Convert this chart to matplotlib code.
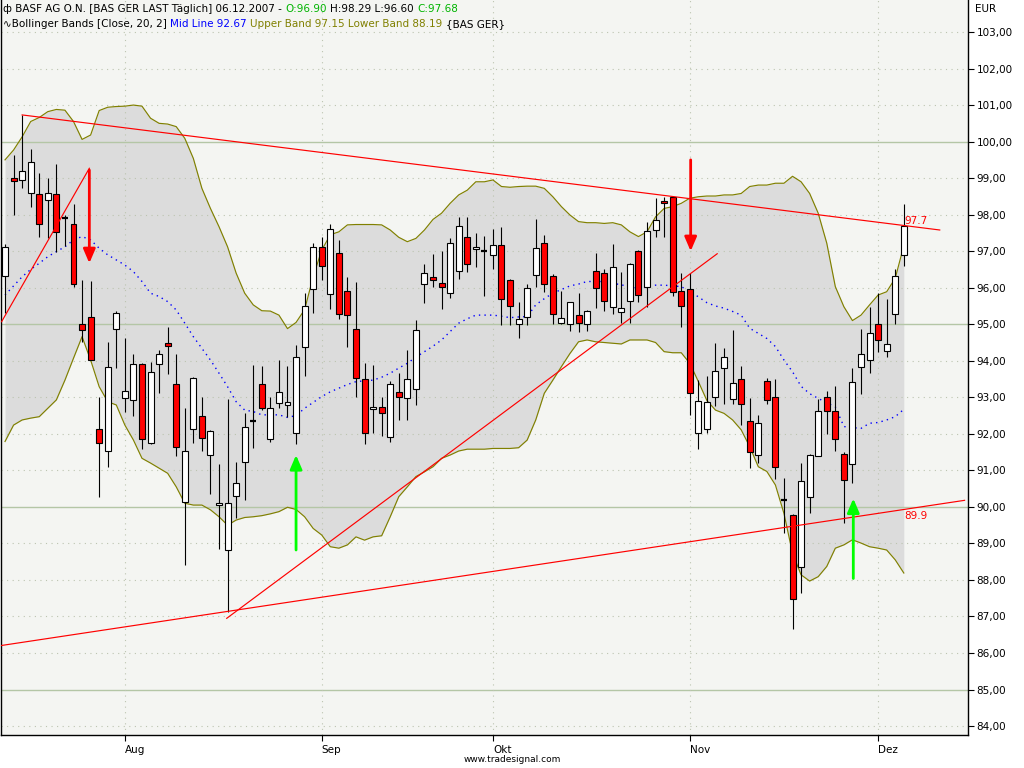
import numpy as np
import matplotlib
matplotlib.use("Agg")
import matplotlib.pyplot as plt

# BASF daily candles, 12.07.2007 - 06.12.2007 (trading day index 0..105)
opens = [96.32, 98.99, 98.95, 98.58, 98.56, 98.40, 98.56, 97.90, 97.74, 95.00,
         95.19, 92.12, 91.53, 94.88, 92.97, 92.93, 93.90, 91.76, 93.90, 94.48,
         93.36, 90.13, 92.12, 92.49, 91.41, 90.04, 88.82, 90.30, 91.22, 92.36,
         93.36, 91.85, 92.84, 92.79, 92.02, 94.37, 95.96, 97.11, 95.82, 96.94,
         95.90, 94.86, 93.51, 92.69, 92.74, 91.90, 93.14, 92.99, 93.22, 96.09,
         96.28, 96.12, 95.85, 96.45, 97.38, 97.05, 97.00, 96.89, 97.16, 96.21,
         95.00, 95.19, 96.35, 97.22, 96.33, 95.03, 95.00, 95.24, 95.00, 96.45,
         96.39, 95.46, 95.33, 95.65, 97.00, 96.01, 97.57, 98.38, 98.47, 95.90,
         95.96, 92.02, 92.12, 93.02, 93.79, 92.95, 93.51, 92.34, 91.42, 93.45,
         93.00, 90.19, 89.78, 88.35, 90.26, 91.38, 93.00, 92.62, 91.45, 91.17,
         93.82, 94.01, 95.00, 94.27, 95.27, 96.90]
highs = [97.20, 99.63, 100.73, 99.79, 99.13, 98.99, 99.39, 97.99, 98.28, 96.21,
         96.18, 93.02, 94.52, 95.37, 94.62, 94.19, 93.93, 93.96, 94.30, 94.92,
         94.18, 92.70, 93.55, 93.02, 92.10, 91.18, 92.96, 91.24, 92.56, 93.88,
         93.86, 93.02, 94.02, 93.87, 94.42, 95.85, 97.23, 97.40, 97.74, 97.31,
         96.29, 96.17, 93.93, 93.88, 93.02, 93.45, 93.67, 94.30, 95.12, 96.65,
         96.92, 97.01, 97.35, 97.94, 97.93, 97.49, 97.42, 97.60, 97.67, 96.25,
         95.60, 96.10, 97.87, 97.44, 96.38, 95.91, 95.62, 95.85, 95.39, 96.94,
         96.50, 97.19, 96.44, 96.69, 97.02, 97.81, 98.45, 98.49, 98.50, 96.39,
         96.41, 93.47, 93.58, 94.50, 94.36, 94.84, 93.86, 92.97, 92.52, 93.54,
         93.51, 90.78, 89.80, 91.21, 91.45, 92.95, 93.18, 93.31, 91.49, 93.79,
         94.86, 95.48, 95.85, 95.69, 96.50, 98.29]
lows = [95.30, 97.99, 98.72, 98.22, 97.40, 97.35, 96.99, 97.13, 96.03, 94.52,
        94.02, 90.26, 91.10, 93.81, 92.61, 92.49, 91.58, 91.71, 93.11, 93.64,
        91.40, 88.41, 91.76, 91.52, 90.35, 88.84, 87.12, 89.69, 90.19, 91.60,
        92.65, 91.79, 92.70, 92.45, 91.71, 93.58, 95.30, 96.20, 95.41, 95.13,
        94.39, 93.02, 91.71, 92.01, 91.94, 91.77, 92.38, 92.38, 92.79, 95.59,
        96.03, 95.41, 95.71, 96.25, 96.42, 96.58, 95.76, 96.50, 94.98, 94.98,
        94.61, 94.98, 96.03, 95.89, 95.00, 95.00, 94.82, 94.80, 94.82, 95.44,
        95.37, 95.27, 95.03, 95.04, 95.61, 95.48, 97.38, 97.40, 95.76, 94.92,
        92.52, 91.58, 92.02, 92.76, 92.82, 92.82, 92.24, 91.06, 91.19, 92.82,
        90.76, 89.28, 86.65, 87.63, 89.82, 91.38, 91.99, 91.54, 89.57, 90.66,
        93.09, 93.66, 94.25, 94.09, 95.00, 96.60]
closes = [97.11, 98.91, 99.20, 99.43, 97.74, 98.58, 97.52, 97.90, 96.10, 94.84,
          94.02, 91.74, 93.82, 95.30, 93.17, 93.90, 91.85, 93.68, 94.18, 94.41,
          91.65, 91.53, 93.52, 91.88, 92.08, 90.10, 90.10, 90.65, 92.18, 92.36,
          92.70, 92.70, 93.14, 92.86, 94.10, 95.51, 97.12, 96.60, 97.60, 95.27,
          95.24, 93.52, 92.01, 92.74, 92.56, 93.36, 93.02, 93.49, 94.83, 96.39,
          96.21, 96.03, 97.22, 97.69, 96.64, 97.11, 97.00, 97.16, 95.68, 95.50,
          95.13, 95.98, 97.08, 96.10, 95.27, 95.16, 95.60, 95.03, 95.35, 95.98,
          95.63, 96.56, 95.44, 96.64, 95.79, 97.54, 97.85, 98.33, 95.89, 95.50,
          93.11, 92.90, 92.86, 93.71, 94.09, 93.38, 92.81, 91.49, 92.29, 92.93,
          91.08, 90.19, 87.47, 90.72, 91.41, 92.62, 92.62, 91.86, 90.74, 93.41,
          94.19, 94.75, 94.56, 94.46, 96.33, 97.68]

# Bollinger Bands [Close, 20, 2] as drawn
upper_band = [99.50, 99.77, 100.13, 100.55, 100.66, 100.82, 100.88, 100.86, 100.55, 100.06,
              100.18, 100.85, 100.94, 100.96, 100.97, 101.00, 100.97, 100.64, 100.50, 100.48,
              100.41, 100.09, 99.54, 98.72, 98.17, 97.67, 97.12, 96.40, 95.85, 95.53,
              95.37, 95.36, 95.25, 94.88, 95.05, 95.40, 96.30, 97.03, 97.45, 97.53,
              97.72, 97.73, 97.73, 97.73, 97.72, 97.58, 97.38, 97.26, 97.35, 97.58,
              97.87, 98.04, 98.31, 98.54, 98.67, 98.90, 98.90, 98.95, 98.77, 98.75,
              98.77, 98.78, 98.78, 98.72, 98.49, 98.22, 97.99, 97.81, 97.78, 97.78,
              97.76, 97.78, 97.72, 97.53, 97.40, 97.53, 97.94, 98.17, 98.22, 98.31,
              98.45, 98.49, 98.51, 98.51, 98.54, 98.54, 98.58, 98.77, 98.81, 98.81,
              98.86, 98.86, 99.05, 98.90, 98.58, 98.04, 97.22, 96.03, 95.48, 95.10,
              95.25, 95.53, 95.80, 95.89, 96.26, 97.15]
mid_line = [95.80, 96.05, 96.30, 96.50, 96.67, 96.85, 96.99, 97.12, 97.31, 97.40,
            97.31, 97.08, 96.90, 96.76, 96.62, 96.44, 96.17, 95.85, 95.76, 95.62,
            95.39, 95.03, 94.66, 94.34, 94.02, 93.66, 93.29, 92.88, 92.65, 92.61,
            92.52, 92.52, 92.52, 92.45, 92.50, 92.70, 92.86, 93.02, 93.15, 93.25,
            93.35, 93.43, 93.45, 93.47, 93.55, 93.66, 93.80, 93.93, 94.10, 94.25,
            94.40, 94.57, 94.80, 95.03, 95.15, 95.25, 95.25, 95.25, 95.22, 95.18,
            95.20, 95.21, 95.53, 95.70, 95.85, 95.95, 96.05, 96.10, 96.17, 96.17,
            96.17, 96.12, 96.08, 96.02, 95.98, 96.02, 96.07, 96.07, 96.05, 96.03,
            95.90, 95.75, 95.59, 95.50, 95.44, 95.35, 95.25, 94.89, 94.75, 94.61,
            94.39, 94.02, 93.70, 93.30, 93.10, 92.97, 92.85, 92.74, 92.20, 92.17,
            92.15, 92.29, 92.31, 92.38, 92.47, 92.67]
lower_band = [91.79, 92.24, 92.38, 92.43, 92.47, 92.70, 92.93, 93.47, 94.07, 94.66,
              94.02, 93.29, 92.88, 92.79, 92.24, 91.83, 91.33, 91.20, 91.06, 90.92,
              90.55, 90.10, 90.05, 90.05, 89.92, 89.73, 89.50, 89.64, 89.71, 89.73,
              89.76, 89.81, 89.87, 89.99, 89.93, 89.73, 89.41, 89.23, 88.91, 88.87,
              88.96, 89.18, 89.09, 89.18, 89.21, 89.73, 90.28, 90.55, 90.83, 90.96,
              91.10, 91.33, 91.42, 91.53, 91.58, 91.58, 91.58, 91.60, 91.60, 91.60,
              91.62, 91.83, 92.38, 93.11, 93.47, 93.84, 94.20, 94.52, 94.57, 94.52,
              94.50, 94.48, 94.46, 94.57, 94.57, 94.57, 94.50, 94.25, 94.22, 94.22,
              93.93, 93.43, 92.91, 92.65, 92.56, 92.38, 92.11, 91.65, 91.10, 90.97,
              90.60, 89.82, 88.73, 88.14, 87.97, 88.09, 88.37, 88.87, 88.96, 89.10,
              89.01, 88.91, 88.87, 88.82, 88.55, 88.19]

month_starts = [14, 37, 57, 80, 102]
month_labels = ["Aug", "Sep", "Okt", "Nov", "Dez"]
price_ticks = list(range(84, 104))

# hand drawn trend lines: (index, price) end points
resistance = ([2, 109.2], [100.73, 97.58])
support = ([-0.6, 112.1], [86.20, 90.18])
uptrend = ([25.9, 83.2], [86.95, 96.93])
july_line = ([-0.4, 9.85], [95.07, 99.27])
# arrows: (index, start price, end price, colour)
arrows = [(9.85, 99.22, 96.67, "#ff0000"),
          (80.1, 99.50, 97.00, "#ff0000"),
          (34.0, 88.82, 91.42, "#00ff00"),
          (99.1, 88.04, 90.23, "#00ff00")]
line_labels = [(105.1, 97.7, "97.7", "bottom"), (105.1, 89.9, "89.9", "top")]

FS = 7.5
plt.rcParams["font.family"] = ["DejaVu Sans"]

fig = plt.figure(figsize=(10.24, 7.68), dpi=100)
ax = fig.add_axes([1 / 1024, 33 / 768, 967 / 1024, 735 / 768])
ax.set_facecolor("#f4f5f2")
ax.set_xlim(-0.47, 112.5)
ax.set_ylim(83.756, 103.876)

idx = np.arange(len(closes))

# bands
ax.fill_between(idx, lower_band, upper_band, color="#dcdcdc", lw=0, zorder=1)
ax.plot(idx, upper_band, color="#808000", lw=0.85, zorder=2)
ax.plot(idx, lower_band, color="#808000", lw=0.85, zorder=2)
ax.plot(idx, mid_line, color="#0000ff", lw=1, ls=(0, (1, 3)), zorder=2)

# grid
for p in price_ticks:
    if p % 5 == 0:
        ax.axhline(p, color="#b4c6a6", lw=1, zorder=1.5)
    else:
        ax.axhline(p, color="#bcc4b0", lw=0.8, ls=(0, (1, 4)), zorder=1.5)
for m in month_starts:
    ax.axvline(m, color="#bcc4b0", lw=0.8, ls=(0, (1, 4)), zorder=1.5)

# candles
o = np.array(opens); c = np.array(closes)
ax.vlines(idx, lows, highs, color="black", lw=0.8, zorder=3)
body = np.abs(c - o) > 0.001
cols = np.where(c >= o, "#ffffff", "#ff0000")
ax.bar(idx[body], np.abs(c - o)[body], bottom=np.minimum(o, c)[body], width=0.7,
       color=cols[body], edgecolor="black", lw=0.8, zorder=3.5)
ax.hlines(c[~body], idx[~body] - 0.35, idx[~body] + 0.35, color="black", lw=1.6, zorder=3.5)

# trend lines and arrows
for xs, ys in (resistance, support, uptrend, july_line):
    ax.plot(xs, ys, color="#ff0000", lw=0.85, zorder=4)
for x, y0, y1, col in arrows:
    ax.annotate("", xy=(x, y1), xytext=(x, y0),
                arrowprops=dict(arrowstyle="-|>,head_length=0.7,head_width=0.3",
                                color=col, lw=2, shrinkA=0, shrinkB=0, mutation_scale=12),
                zorder=5)
for x, y, s, va in line_labels:
    ax.text(x, y, s, color="#ff0000", fontsize=FS, ha="left", va=va, zorder=5)

# axes
ax.spines["top"].set_visible(False)
for side in ("left", "right", "bottom"):
    ax.spines[side].set_color("black")
    ax.spines[side].set_linewidth(1)
ax.yaxis.tick_right()
ax.set_yticks(price_ticks)
ax.set_yticklabels([f"{p:.2f}".replace(".", ",") for p in price_ticks])
ax.tick_params(axis="y", direction="out", length=4, pad=2, labelsize=FS)
ax.set_xticks(month_starts)
ax.set_xticklabels(month_labels, ha="left")
ax.tick_params(axis="x", direction="out", length=4, pad=3, labelsize=FS)

fig.text(975 / 1024, 1 - 9 / 768, "EUR", fontsize=FS, va="center")
fig.text(0.5, 1 - 760 / 768, "www.tradesignal.com", fontsize=6.5, ha="center", va="center")

# header lines, coloured parts chained one after another
def header(parts, y):
    t = fig.text(3 / 1024, y, parts[0][0], color=parts[0][1], fontsize=FS, va="center")
    for s, col in parts[1:]:
        t = ax.annotate(s, xy=(1, 0), xycoords=t, xytext=(2.5, 0), textcoords="offset points",
                        color=col, fontsize=FS, va="bottom", ha="left")

header([("ф BASF AG O.N. [BAS GER LAST Täglich] 06.12.2007 -", "black"),
        ("O:96.90", "#00b400"), ("H:98.29 L:96.60", "black"), ("C:97.68", "#00b400")],
       1 - 9 / 768)
header([("∿Bollinger Bands [Close, 20, 2]", "black"), ("Mid Line 92.67", "#0000ff"),
        ("Upper Band 97.15 Lower Band 88.19", "#808000"), ("{BAS GER}", "black")],
       1 - 24 / 768)

fig.savefig("out.png", dpi=100, facecolor="white")
